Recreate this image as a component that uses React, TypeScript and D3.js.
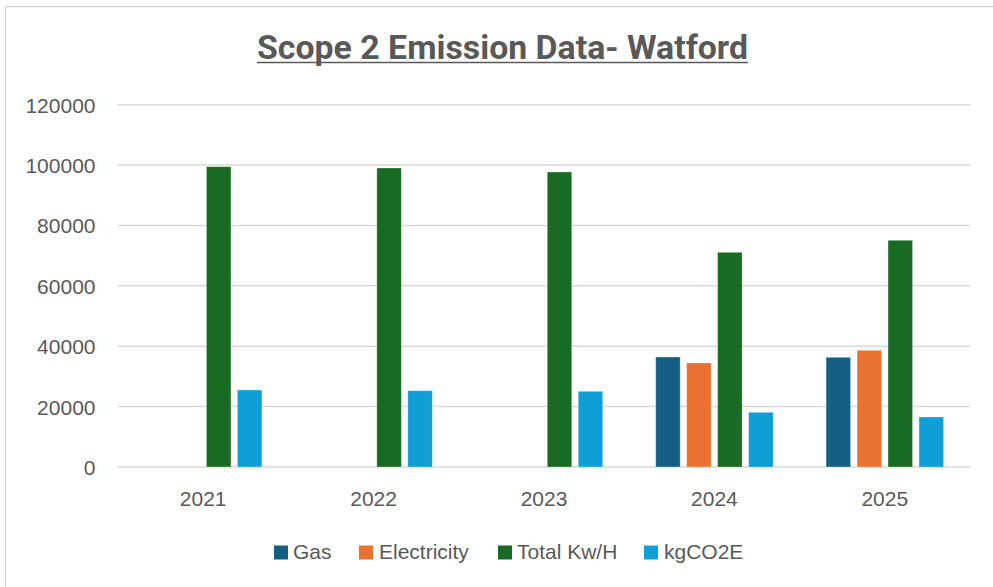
import React from "react";
import * as d3 from "d3";

const years = ["2021", "2022", "2023", "2024", "2025"];
const seriesNames = ["Gas", "Electricity", "Total Kw/H", "kgCO2E"];
const gas: (number | null)[] = [null, null, null, 36430, 36330];
const electricity: (number | null)[] = [null, null, null, 34450, 38650];
const totalKwh: (number | null)[] = [99470, 99030, 97710, 71110, 75090];
const kgCO2E: (number | null)[] = [25500, 25270, 25070, 18120, 16560];
const yTicks = [0, 20000, 40000, 60000, 80000, 100000, 120000];
const colors = ["#156082", "#E97132", "#196B24", "#0F9ED5"];

const W = 993;
const H = 587;
const plotLeft = 118;
const plotRight = 970;
const plotTop = 104.7;
const plotBottom = 467;

export default function App() {
  const values = [gas, electricity, totalKwh, kgCO2E];
  const x0 = d3.scaleBand<string>().domain(years).range([plotLeft, plotRight]).padding(0);
  const groupW = 117.4;
  const x1 = d3
    .scaleBand<string>()
    .domain(seriesNames)
    .range([0, groupW])
    .paddingInner(0.21)
    .paddingOuter(0);
  const y = d3.scaleLinear().domain([0, 120000]).range([plotBottom, plotTop]);
  const textColor = "#595959";
  const legendX = [274, 359, 498, 644];
  const legendTextX = [293, 379, 517, 664];

  return (
    <div style={{ position: "fixed", left: 0, top: 0 }}>
      <svg width={W} height={H} style={{ display: "block", background: "#fff" }}>
        <rect x={0} y={0} width={W} height={H} fill="#fff" />
        {/* chart border */}
        <line x1={5.5} y1={6.5} x2={W} y2={6.5} stroke="#d9d9d9" strokeWidth={1.5} />
        <line x1={5.5} y1={6.5} x2={5.5} y2={H} stroke="#d9d9d9" strokeWidth={1.5} />
        {/* title */}
        <text
          x={502.5}
          y={58.5}
          textAnchor="middle"
          fontFamily="Roboto, 'Liberation Sans', sans-serif"
          fontWeight={700}
          fontSize={34}
          fill={textColor}
          textLength={491}
          lengthAdjust="spacingAndGlyphs"
        >
          Scope 2 Emission Data- Watford
        </text>
        <line x1={257} x2={748} y1={62.5} y2={62.5} stroke={textColor} strokeWidth={1.6} />
        {/* gridlines */}
        {yTicks.map((t) => (
          <g key={t}>
            <line
              x1={plotLeft}
              x2={plotRight}
              y1={y(t)}
              y2={y(t)}
              stroke="#d9d9d9"
              strokeWidth={1.5}
            />
            <text
              x={95.5}
              y={y(t) + 8}
              textAnchor="end"
              fontFamily="'Liberation Sans', Arial, sans-serif"
              fontSize={21}
              fill={textColor}
            >
              {t}
            </text>
          </g>
        ))}
        {/* bars */}
        {years.map((yr, i) => {
          const cx = (x0(yr) as number) + x0.bandwidth() / 2;
          const gx = cx - groupW / 2;
          return (
            <g key={yr}>
              {seriesNames.map((s, si) => {
                const v = values[si][i];
                if (v == null) return null;
                return (
                  <rect
                    key={s}
                    x={gx + (x1(s) as number)}
                    y={y(v)}
                    width={x1.bandwidth()}
                    height={y(0) - y(v)}
                    fill={colors[si]}
                    stroke="#ffffff"
                    strokeOpacity={0.35}
                    strokeWidth={0.8}
                  />
                );
              })}
              <text
                x={cx}
                y={506}
                textAnchor="middle"
                fontFamily="'Liberation Sans', Arial, sans-serif"
                fontSize={21}
                fill={textColor}
              >
                {yr}
              </text>
            </g>
          );
        })}
        {/* legend */}
        {seriesNames.map((s, si) => (
          <g key={s}>
            <rect x={legendX[si]} y={545.5} width={14} height={14} fill={colors[si]} />
            <text
              x={legendTextX[si]}
              y={559}
              fontFamily="'Liberation Sans', Arial, sans-serif"
              fontSize={21}
              fill={textColor}
            >
              {s}
            </text>
          </g>
        ))}
      </svg>
    </div>
  );
}
